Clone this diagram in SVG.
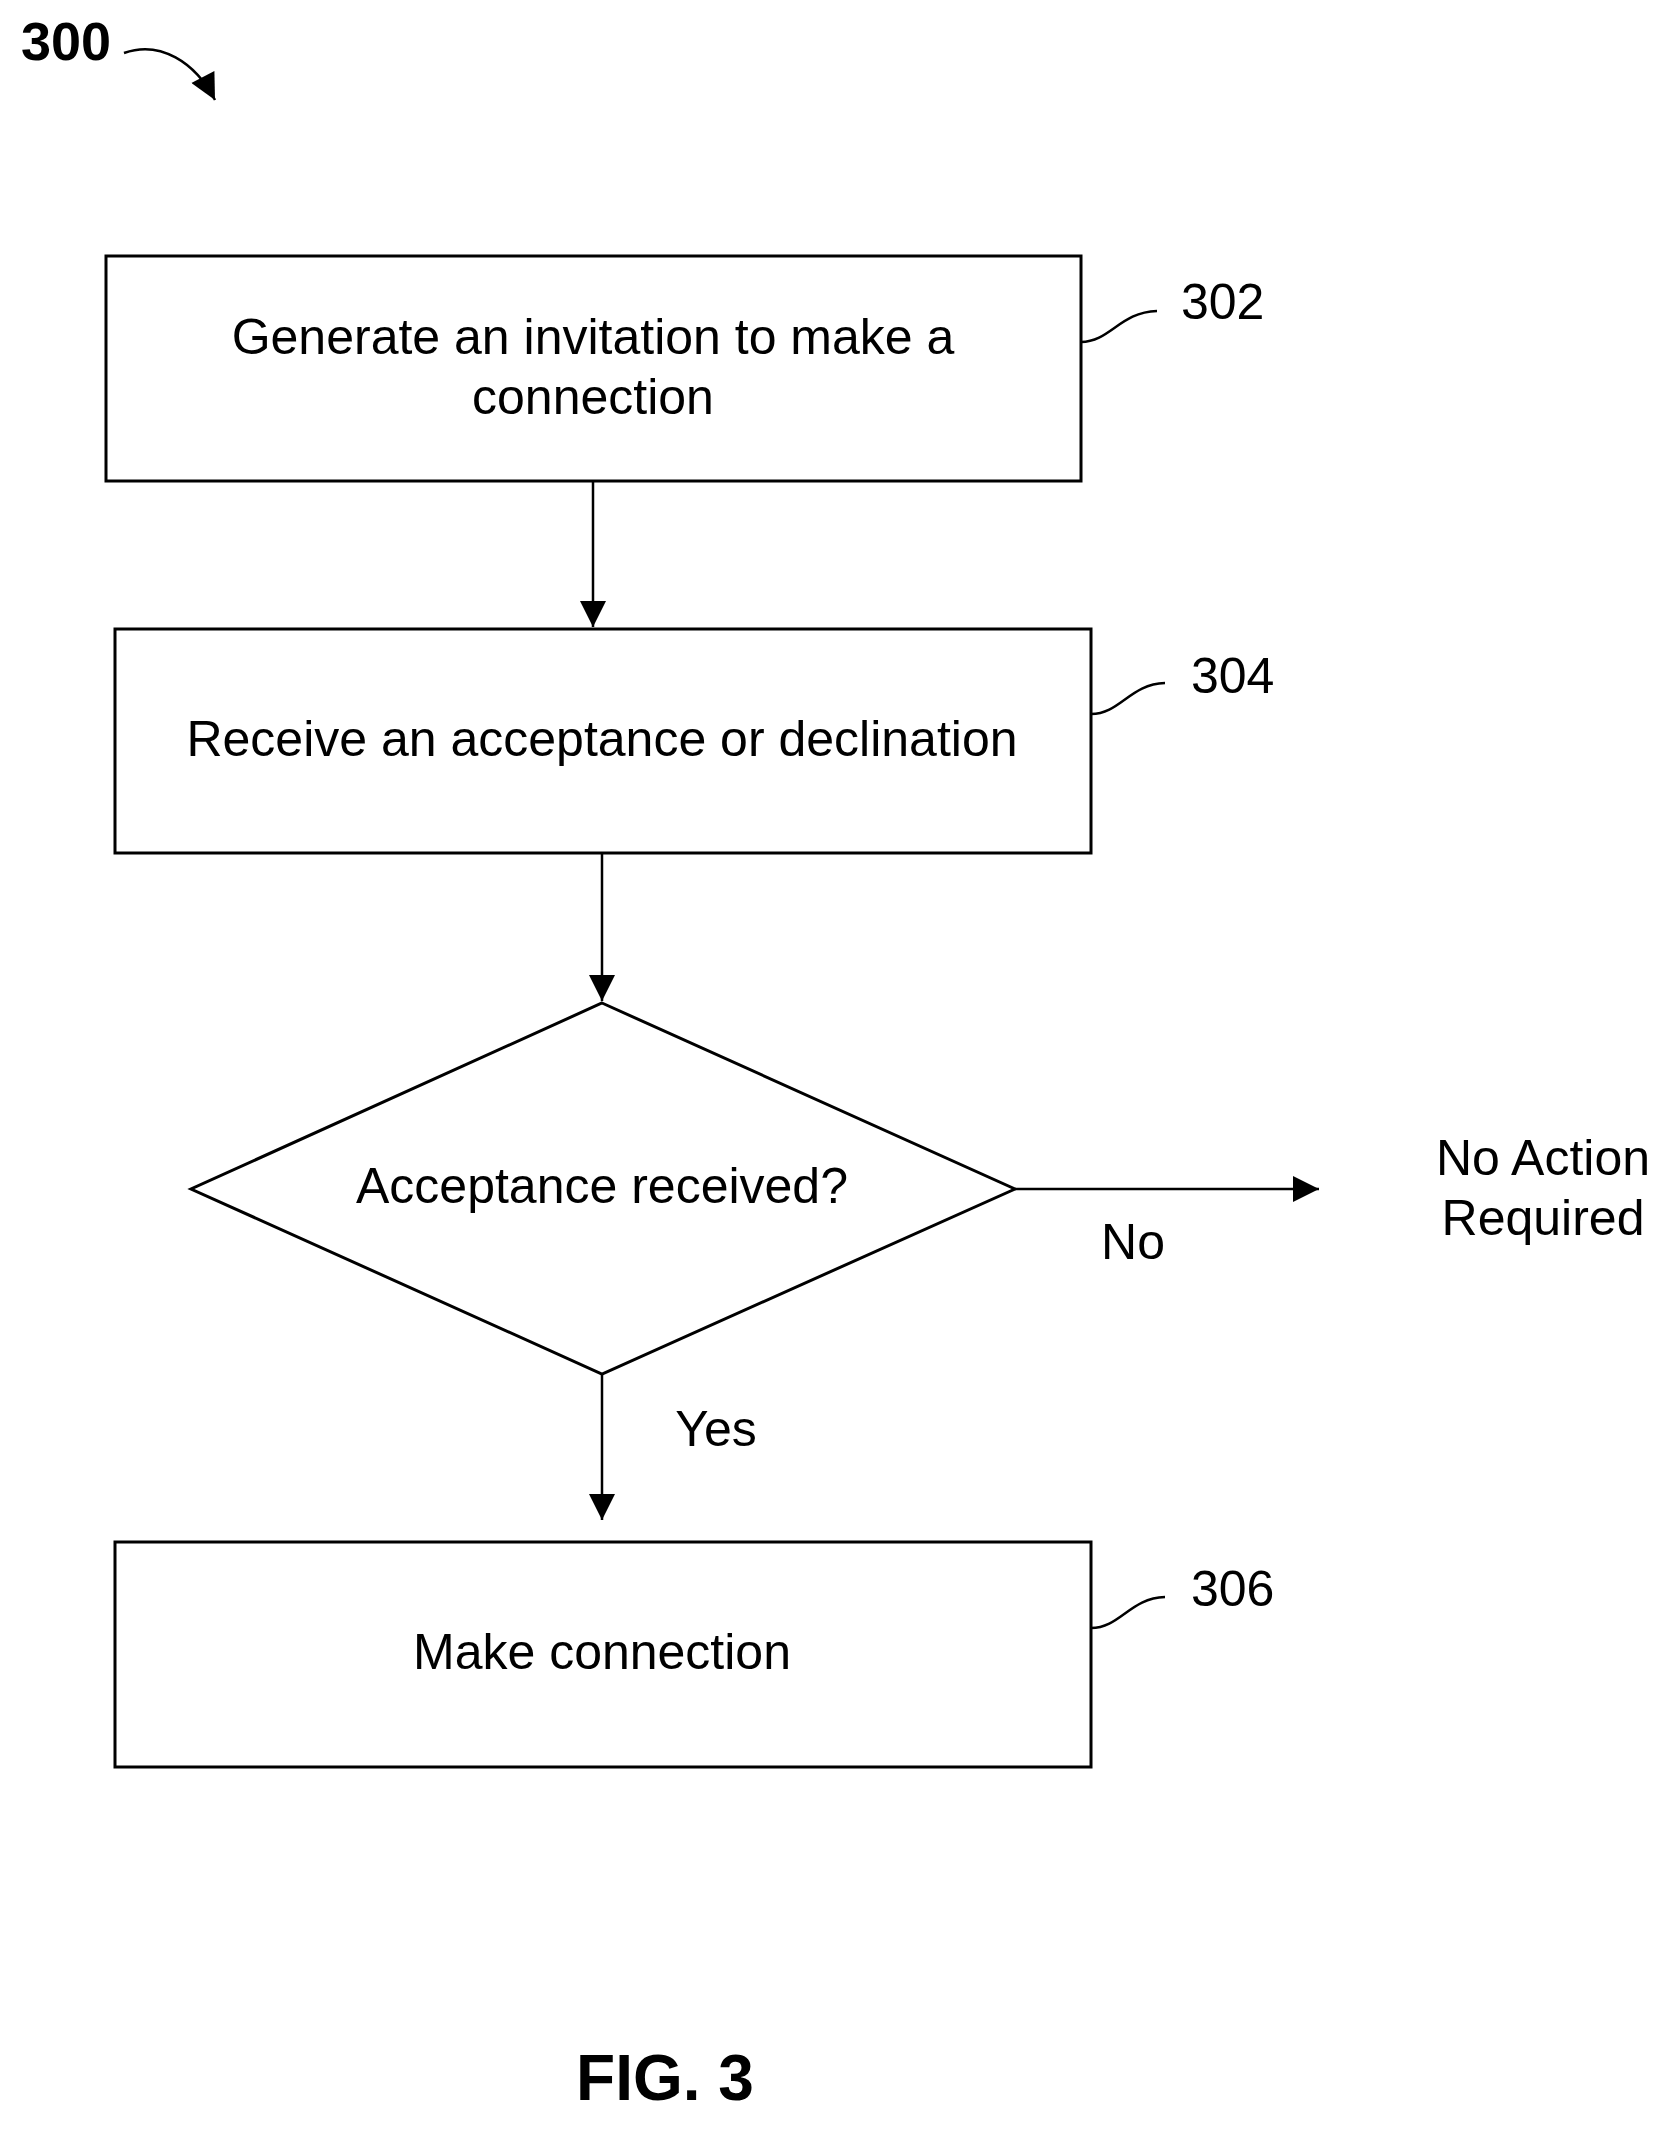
<svg xmlns="http://www.w3.org/2000/svg" width="1678" height="2134" viewBox="0 0 1678 2134">
<defs>
<style>
.b{fill:#fff;stroke:#000;stroke-width:3}
.l{fill:none;stroke:#000;stroke-width:2.5}
text{font-family:"Liberation Sans",Arial,sans-serif;font-size:50px;fill:#000;text-anchor:middle}
.r{text-anchor:start}
</style>
<marker id="A" viewBox="0 0 10 10" refX="10" refY="5" markerWidth="38" markerHeight="26" markerUnits="userSpaceOnUse" orient="auto"><path d="M0,0L10,5L0,10z"/></marker>
</defs>
<rect width="1678" height="2134" fill="#fff"/>
<g id="title">
<text x="66" y="60" style="font-weight:bold;font-size:54px">300</text>
<path class="l" d="M124,53 C160,40 195,62 215,100" marker-end="url(#A)"/>
</g>
<g id="n302">
<rect class="b" x="106" y="256" width="975" height="225"/>
<text x="593" y="354">Generate an invitation to make a</text>
<text x="593" y="414">connection</text>
<path class="l" d="M1081,342 C1110,342 1120,312 1157,311"/>
<text class="r" x="1181" y="319">302</text>
</g>
<g id="n304">
<rect class="b" x="115" y="629" width="976" height="224"/>
<text x="602" y="756">Receive an acceptance or declination</text>
<path class="l" d="M1091,714 C1120,714 1130,684 1165,683"/>
<text class="r" x="1191" y="693">304</text>
</g>
<g id="d">
<polygon class="b" points="602,1003 1015,1189 602,1374 191,1189"/>
<text x="602" y="1203">Acceptance received?</text>
</g>
<g id="n306">
<rect class="b" x="115" y="1542" width="976" height="225"/>
<text x="602" y="1669">Make connection</text>
<path class="l" d="M1091,1628 C1120,1628 1130,1598 1165,1597"/>
<text class="r" x="1191" y="1606">306</text>
</g>
<g id="noaction">
<text x="1543" y="1175">No Action</text>
<text x="1543" y="1235">Required</text>
</g>
<g id="connectors">
<line class="l" x1="593" y1="481" x2="593" y2="627" marker-end="url(#A)"/>
<line class="l" x1="602" y1="853" x2="602" y2="1001" marker-end="url(#A)"/>
<line class="l" x1="1015" y1="1189" x2="1319" y2="1189" marker-end="url(#A)"/>
<line class="l" x1="602" y1="1374" x2="602" y2="1520" marker-end="url(#A)"/>
<text x="1133" y="1259">No</text>
<text x="716" y="1446">Yes</text>
</g>
<text x="665" y="2100" style="font-weight:bold;font-size:64px">FIG. 3</text>
</svg>
